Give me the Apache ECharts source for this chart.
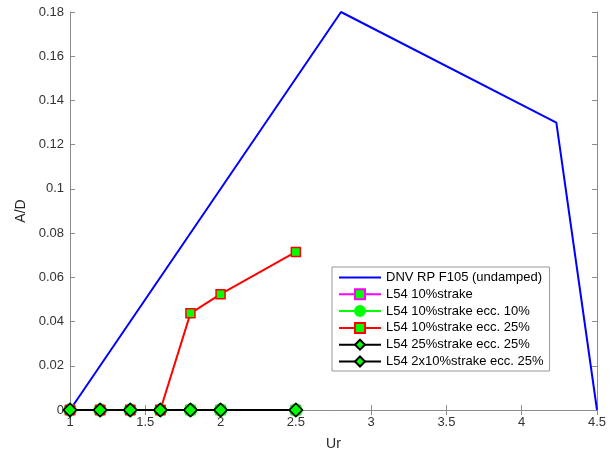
<!DOCTYPE html>
<html><head><meta charset="utf-8">
<script src="https://cdn.jsdelivr.net/npm/echarts@6/dist/echarts.min.js"></script>
<style>html,body{margin:0;padding:0;background:#fff}#c{width:615px;height:456px}</style>
</head><body><div id="c"></div>
<script>
var dnvX = [1, 2.8, 4.23, 4.5];
var dnvY = [0, 0.18, 0.13, 0];
var testX = [1, 1.2, 1.4, 1.6, 1.8, 2, 2.5];
var s10strake = [0, 0, 0, 0, 0, 0, 0];
var s10ecc10 = [0, 0, 0, 0, 0, 0, 0];
var s10ecc25 = [0, 0, 0, 0, 0.0437, 0.0524, 0.0715];
var s25ecc25 = [0, 0, 0, 0, 0, 0, 0];
var s2x10ecc25 = [0, 0, 0, 0, 0, 0, 0];
var names = ['DNV RP F105 (undamped)', 'L54 10%strake', 'L54 10%strake ecc. 10%', 'L54 10%strake ecc. 25%', 'L54 25%strake ecc. 25%', 'L54 2x10%strake ecc. 25%'];
var xTicks = [1, 1.5, 2, 2.5, 3, 3.5, 4, 4.5];
var yTicks = [0, 0.02, 0.04, 0.06, 0.08, 0.1, 0.12, 0.14, 0.16, 0.18];

function zip(xs, ys){ return xs.map(function(x,i){ return [x, ys[i]]; }); }
var font = 'Liberation Sans, Arial, sans-serif';
var axisCol = '#8c8c8c';
function mk(name, data, lineCol, sym, symSize, fill, edge){
  return { name: name, type: 'line', data: data, symbol: sym, symbolSize: symSize,
    showAllSymbol: true, animation: false,
    lineStyle: { color: lineCol, width: 2 },
    itemStyle: { color: fill, borderColor: edge, borderWidth: 1.5 } };
}
var legendData = names.map(function(n, i){
  return i === 0 ? { name: n, itemStyle: { opacity: 0 } } : { name: n };
});
var chart = echarts.init(document.getElementById('c'), null, {renderer: 'canvas'});
chart.setOption({
  animation: false,
  backgroundColor: '#fff',
  grid: { left: 70, right: 18, top: 12, bottom: 44, show: false },
  legend: {
    left: 332, top: 267, orient: 'vertical',
    backgroundColor: '#fff', borderColor: '#999', borderWidth: 1,
    padding: [4, 6, 3, 6], itemGap: 3.8, itemWidth: 42, itemHeight: 12.5,
    textStyle: { fontFamily: font, fontSize: 13, color: '#000' },
    data: legendData
  },
  xAxis: [{
    type: 'value', min: 1, max: 4.5, interval: 0.5,
    name: 'Ur', nameLocation: 'middle', nameGap: 27,
    nameTextStyle: { fontFamily: font, fontSize: 14, color: '#262626' },
    axisLine: { show: true, lineStyle: { color: axisCol } },
    axisTick: { show: true, inside: true, length: 5, lineStyle: { color: axisCol } },
    axisLabel: { fontFamily: font, fontSize: 13, color: '#333', margin: 6,
      formatter: function(v){ return xTicks.indexOf(v) >= 0 ? String(v) : ''; } },
    splitLine: { show: false }
  }, {
    type: 'value', position: 'top', min: 1, max: 4.5, interval: 0.5,
    axisLine: { show: true, lineStyle: { color: axisCol } },
    axisTick: { show: true, inside: true, length: 5, lineStyle: { color: axisCol } },
    axisLabel: { show: false }, splitLine: { show: false }
  }],
  yAxis: [{
    type: 'value', min: 0, max: 0.18, interval: 0.02,
    name: 'A/D', nameLocation: 'middle', nameGap: 38, nameRotate: 90,
    nameTextStyle: { fontFamily: font, fontSize: 14, color: '#262626' },
    axisLine: { show: true, lineStyle: { color: axisCol } },
    axisTick: { show: true, inside: true, length: 5, lineStyle: { color: axisCol } },
    axisLabel: { fontFamily: font, fontSize: 13, color: '#333', margin: 6,
      formatter: function(v){ var r = Math.round(v*100)/100; return String(r); } },
    splitLine: { show: false }
  }, {
    type: 'value', position: 'right', min: 0, max: 0.18, interval: 0.02,
    axisLine: { show: true, lineStyle: { color: axisCol } },
    axisTick: { show: true, inside: true, length: 5, lineStyle: { color: axisCol } },
    axisLabel: { show: false }, splitLine: { show: false }
  }],
  series: [
    mk(names[0], zip(dnvX, dnvY), '#0000ff', 'none', 0, '#0000ff', '#0000ff'),
    mk(names[1], zip(testX, s10strake), '#ff00ff', 'rect', 9, '#00ff00', '#ff00ff'),
    mk(names[2], zip(testX, s10ecc10), '#00ff00', 'circle', 12, '#00ff00', '#00ff00'),
    mk(names[3], zip(testX, s10ecc25), '#ff0000', 'rect', 9, '#00ff00', '#ff0000'),
    mk(names[4], zip(testX, s25ecc25), '#000000', 'diamond', 13, '#00ff00', '#000000'),
    mk(names[5], zip(testX, s2x10ecc25), '#000000', 'diamond', 13, '#00ff00', '#000000')
  ]
});
</script></body></html>
